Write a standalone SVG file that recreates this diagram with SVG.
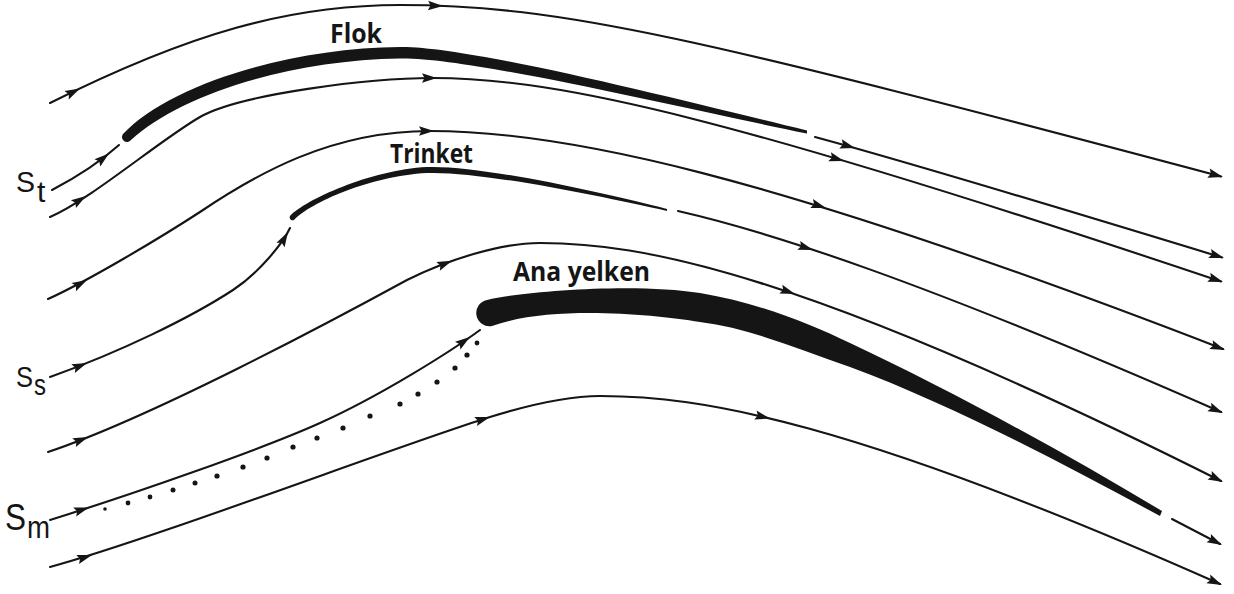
<svg xmlns="http://www.w3.org/2000/svg" width="1234" height="594" viewBox="0 0 1234 594">
  <defs>
    <!-- arrowhead, tip at origin pointing along +x -->
    <path id="ah" d="M0,0 L-15,-4.7 L-12.5,0 L-15,4.7 Z"/>
  </defs>
  <style>
    .flow{fill:none;stroke:#151515;stroke-width:2.1;stroke-linecap:round;stroke-linejoin:round}
    .ah{fill:#151515}
    .sail{fill:#151515}
    .dot{fill:#151515}
    .lbl{font-family:"Open Sans","Liberation Sans",sans-serif;font-weight:700;font-size:26px;fill:#151515}
    .sym{font-family:"Liberation Sans","DejaVu Sans",sans-serif;font-size:30px;fill:#151515}
  </style>
  <rect width="1234" height="594" fill="#ffffff"/>

  <!-- sails -->
  <g id="flok">
    <path class="sail" d="M123,134 C170,84 290,48 400,47 C470,46 680,100 807,130.5 L807,133.5 C680,108 470,57 400,58.5 C290,60 180,95 131,140 A4.5,4.5 0 0 1 123,134 Z"/>
    <text class="lbl" x="330" y="43" textLength="52" lengthAdjust="spacingAndGlyphs">Flok</text>
  </g>
  <g id="trinket">
    <path class="sail" d="M290,216 C305,200 370,170 427,167 C480,165 600,192 667,209 L667,211 C600,196 480,171 427,173 C370,176 310,203 294,220 A3,3 0 0 1 290,216 Z"/>
    <text class="lbl" x="390" y="163" textLength="83" lengthAdjust="spacingAndGlyphs">Trinket</text>
  </g>
  <g id="ana-yelken">
    <path class="sail" d="M487,300 C530,290 640,283 700,293 C760,303 810,324 850,343 C950,390 1060,450 1162,511 L1160,516 C1060,462 950,404 850,367 C800,350 750,328 700,322 C650,314 550,305 492,326 A13,13 0 0 1 487,300 Z"/>
    <text class="lbl" x="513" y="281" textLength="137" lengthAdjust="spacingAndGlyphs">Ana yelken</text>
  </g>

  <!-- stagnation streamline labels -->
  <g id="label-st">
    <text class="sym" x="16" y="192" textLength="19" lengthAdjust="spacingAndGlyphs">S</text>
    <text class="sym" x="37" y="202">t</text>
  </g>
  <g id="label-ss">
    <text class="sym" x="16" y="387" textLength="17" lengthAdjust="spacingAndGlyphs">S</text>
    <text class="sym" x="34" y="395" textLength="12" lengthAdjust="spacingAndGlyphs">s</text>
  </g>
  <g id="label-sm">
    <text class="sym" x="5" y="530" style="font-size:36px" textLength="21" lengthAdjust="spacingAndGlyphs">S</text>
    <text class="sym" x="27" y="538" style="font-size:32px" textLength="23" lengthAdjust="spacingAndGlyphs">m</text>
  </g>

  <!-- streamlines -->
  <g id="connectors">
    <path class="flow" d="M50,103 C190,33 290,5 400,5 C560,5 700,38 1221,176.5"/>
    <path class="flow" d="M52,190 C75,178 100,162 119,145"/>
    <path class="flow" d="M815,137 C900,160 1050,205 1222,257.5"/>
    <path class="flow" d="M50,217 C90,200 160,140 200,117 C240,94 370,78 433,78 C560,78 740,120 1221,281.5"/>
    <path class="flow" d="M48,299 C88,281 160,238 200,212 C255,175 330,131 430,131 C560,131 760,170 1223,349"/>
    <path class="flow" d="M50,377 C120,352 190,318 233,290 C259,273 283,243 290,228"/>
    <path class="flow" d="M678,211 C770,232 920,280 1221,412"/>
    <path class="flow" d="M48,452 C150,418 330,322 407,280 C447,260 500,243 540,243 C640,243 800,270 1221,481"/>
    <path class="flow" d="M50,520 C130,495 260,450 320,423 C380,396 450,352 480,330"/>
    <path class="flow" d="M50,567 C150,540 400,445 490,417 C520,407.7 565,396 600,396 C700,396 850,420 1220,584"/>
    <path class="flow" d="M1172,519 L1220,544"/>

    <!-- arrowheads -->
    <use href="#ah" class="ah" transform="translate(80,88.5) rotate(-27)"/>
    <use href="#ah" class="ah" transform="translate(443,6) rotate(2)"/>
    <use href="#ah" class="ah" transform="translate(1223,177) rotate(15)"/>

    <use href="#ah" class="ah" transform="translate(109,153.5) rotate(-39)"/>
    <use href="#ah" class="ah" transform="translate(855,148) rotate(16)"/>
    <use href="#ah" class="ah" transform="translate(1224,258) rotate(17)"/>

    <use href="#ah" class="ah" transform="translate(86,196) rotate(-33)"/>
    <use href="#ah" class="ah" transform="translate(437,78) rotate(0)"/>
    <use href="#ah" class="ah" transform="translate(844,161) rotate(16.5)"/>
    <use href="#ah" class="ah" transform="translate(1223,282) rotate(18.5)"/>

    <use href="#ah" class="ah" transform="translate(87,280) rotate(-28)"/>
    <use href="#ah" class="ah" transform="translate(434,131) rotate(0)"/>
    <use href="#ah" class="ah" transform="translate(826,208) rotate(17)"/>
    <use href="#ah" class="ah" transform="translate(1225,350) rotate(21)"/>

    <use href="#ah" class="ah" transform="translate(87,363) rotate(-22)"/>
    <use href="#ah" class="ah" transform="translate(288,232) rotate(-60)"/>

    <use href="#ah" class="ah" transform="translate(813,250) rotate(18)"/>
    <use href="#ah" class="ah" transform="translate(1223,413) rotate(23.7)"/>

    <use href="#ah" class="ah" transform="translate(88,437) rotate(-22)"/>
    <use href="#ah" class="ah" transform="translate(452,260.7) rotate(-22)"/>
    <use href="#ah" class="ah" transform="translate(795,294) rotate(19)"/>
    <use href="#ah" class="ah" transform="translate(1223,482) rotate(26.6)"/>

    <use href="#ah" class="ah" transform="translate(89,507.4) rotate(-18)"/>
    <use href="#ah" class="ah" transform="translate(470,337) rotate(-35)"/>

    <use href="#ah" class="ah" transform="translate(92,555) rotate(-17)"/>
    <use href="#ah" class="ah" transform="translate(490,417) rotate(-17)"/>
    <use href="#ah" class="ah" transform="translate(770,418.6) rotate(14)"/>
    <use href="#ah" class="ah" transform="translate(1222,585) rotate(24)"/>

    <use href="#ah" class="ah" transform="translate(1222,545) rotate(27.5)"/>
  </g>

  <!-- dotted path below the main sail -->
  <g id="dotted-line">
    <circle class="dot" cx="105" cy="509" r="1.8"/>
    <circle class="dot" cx="128" cy="503" r="2.4"/>
    <circle class="dot" cx="150" cy="497" r="2.4"/>
    <circle class="dot" cx="173" cy="490" r="2.5"/>
    <circle class="dot" cx="195" cy="483" r="2.5"/>
    <circle class="dot" cx="217" cy="476" r="2.6"/>
    <circle class="dot" cx="243" cy="467" r="2.6"/>
    <circle class="dot" cx="267" cy="458" r="2.6"/>
    <circle class="dot" cx="293" cy="447" r="2.6"/>
    <circle class="dot" cx="317" cy="438" r="2.6"/>
    <circle class="dot" cx="343" cy="428" r="2.6"/>
    <circle class="dot" cx="370" cy="416" r="2.6"/>
    <circle class="dot" cx="400" cy="404" r="2.6"/>
    <circle class="dot" cx="418" cy="394" r="2.6"/>
    <circle class="dot" cx="437" cy="382" r="2.6"/>
    <circle class="dot" cx="455" cy="368" r="2.6"/>
    <circle class="dot" cx="467" cy="355" r="2.6"/>
    <circle class="dot" cx="477" cy="343" r="2.4"/>
  </g>
</svg>
